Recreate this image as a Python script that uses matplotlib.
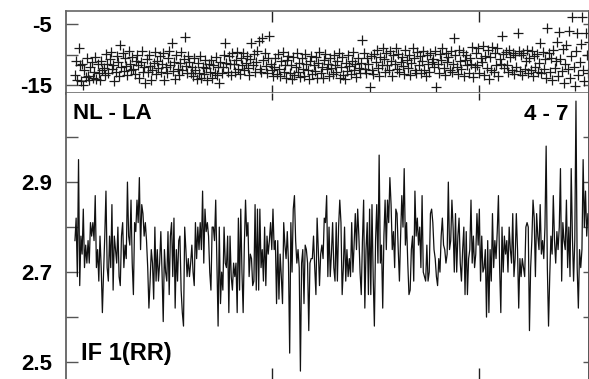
import numpy as np
import matplotlib
matplotlib.use("Agg")
import matplotlib.pyplot as plt

# ---- data ----
amp_a = [2.77, 2.82, 2.69, 2.95, 2.67, 2.78, 2.74, 2.84, 2.71, 2.76,
         2.72, 2.77, 2.72, 2.81, 2.78, 2.81, 2.77, 2.87, 2.71, 2.75,
         2.68, 2.78, 2.71, 2.61, 2.70, 2.78, 2.88, 2.71, 2.68, 2.78,
         2.71, 2.85, 2.66, 2.78, 2.75, 2.72, 2.80, 2.69, 2.67, 2.78,
         2.81, 2.71, 2.76, 2.73, 2.90, 2.78, 2.76, 2.86, 2.72, 2.65,
         2.81, 2.79, 2.86, 2.81, 2.91, 2.75, 2.85, 2.83, 2.78, 2.81,
         2.77, 2.71, 2.62, 2.68, 2.75, 2.72, 2.64, 2.80, 2.68, 2.75,
         2.68, 2.72, 2.79, 2.70, 2.59, 2.75, 2.70, 2.68, 2.79, 2.65,
         2.78, 2.81, 2.69, 2.82, 2.62, 2.75, 2.68, 2.77, 2.78, 2.66,
         2.61, 2.58, 2.80, 2.75, 2.69, 2.73, 2.69, 2.72, 2.76, 2.70]
amp_b = [2.67, 2.81, 2.73, 2.80, 2.75, 2.81, 2.75, 2.88, 2.72, 2.84,
         2.79, 2.81, 2.78, 2.70, 2.66, 2.80, 2.80, 2.77, 2.86, 2.72,
         2.58, 2.80, 2.63, 2.70, 2.66, 2.80, 2.72, 2.71, 2.78, 2.61,
         2.78, 2.69, 2.66, 2.72, 2.69, 2.72, 2.61, 2.82, 2.66, 2.84,
         2.70, 2.61, 2.76, 2.86, 2.78, 2.81, 2.69, 2.74, 2.73, 2.67,
         2.68, 2.85, 2.66, 2.84, 2.66, 2.84, 2.71, 2.75, 2.68, 2.80,
         2.67, 2.78, 2.74, 2.77, 2.81, 2.75, 2.84, 2.75, 2.77, 2.63,
         2.77, 2.64, 2.74, 2.69, 2.63, 2.81, 2.76, 2.73, 2.79, 2.72,
         2.52, 2.81, 2.70, 2.84, 2.87, 2.77, 2.72, 2.75, 2.71, 2.48,
         2.72, 2.75, 2.63, 2.76, 2.75, 2.72, 2.57, 2.72, 2.73, 2.73,
         2.78, 2.71, 2.65, 2.82, 2.75, 2.67, 2.74, 2.76, 2.73, 2.82,
         2.81]
amp_c = [2.87, 2.69, 2.80, 2.69, 2.74, 2.81, 2.71, 2.68, 2.81, 2.68,
         2.80, 2.86, 2.81, 2.65, 2.71, 2.80, 2.68, 2.75, 2.69, 2.73,
         2.69, 2.81, 2.70, 2.76, 2.83, 2.75, 2.84, 2.78, 2.70, 2.65,
         2.77, 2.86, 2.62, 2.75, 2.81, 2.65, 2.84, 2.65, 2.85, 2.69,
         2.58, 2.77, 2.85, 2.72, 2.96, 2.72, 2.76, 2.62, 2.78, 2.86,
         2.75, 2.86, 2.81, 2.91, 2.85, 2.75, 2.79, 2.71, 2.84, 2.83,
         2.75, 2.68, 2.78, 2.87, 2.80, 2.93, 2.76, 2.81, 2.72, 2.65,
         2.66, 2.75, 2.78, 2.68, 2.88, 2.78, 2.82, 2.76, 2.80, 2.71,
         2.87, 2.70, 2.69, 2.68, 2.76, 2.68, 2.70, 2.83, 2.84, 2.81,
         2.75, 2.73, 2.69, 2.67, 2.73, 2.70, 2.78, 2.82, 2.76, 2.75,
         2.72, 2.74, 2.90, 2.75, 2.77, 2.86, 2.80]
amp_d = [2.70, 2.83, 2.70, 2.78, 2.82, 2.72, 2.68, 2.75, 2.80,
         2.65, 2.79, 2.65, 2.73, 2.75, 2.86, 2.72, 2.78,
         2.71, 2.74, 2.83, 2.76, 2.84, 2.68, 2.78, 2.70,
         2.71, 2.75, 2.60, 2.77, 2.61, 2.75, 2.68, 2.83, 2.71, 2.77,
         2.73, 2.79, 2.87, 2.71, 2.61, 2.80, 2.70, 2.78, 2.74, 2.77,
         2.70, 2.80, 2.75, 2.72, 2.83, 2.69, 2.73, 2.83, 2.75,
         2.62, 2.73, 2.69, 2.73, 2.71, 2.69, 2.80, 2.81,
         2.80, 2.57, 2.71, 2.77, 2.86, 2.82, 2.69, 2.83, 2.78, 2.75,
         2.85, 2.74, 2.77, 2.73, 2.80, 2.98, 2.71, 2.58, 2.69, 2.78,
         2.74, 2.87, 2.77, 2.72, 2.79, 2.75, 2.80, 2.93, 2.68, 2.81,
         2.77, 2.75, 2.86, 2.71, 2.80, 2.69, 2.93, 2.78, 2.68, 2.77,
         3.08, 2.71, 2.62, 2.75, 2.71, 2.75, 2.95, 2.80, 2.88, 2.78,
         2.83, 2.80]
amplitude = amp_a + amp_b + amp_c + amp_d

phase = [
    -13.4, -11.0, -14.1, -8.9, -11.8, -14.3, -11.5, -15.0, -12.6, -13.7, -10.6, -13.5,
    -14.2, -12.0, -11.2, -13.8, -12.9, -10.4, -14.0, -11.6, -13.1, -14.1, -11.0, -12.5,
    -12.2, -13.4, -9.9, -11.6, -13.0, -10.8, -9.6, -12.4, -11.7, -14.3, -12.8, -10.2,
    -11.2, -13.5, -8.4, -12.1, -9.8, -12.7, -10.6, -11.9, -13.3, -9.4, -11.6, -12.5,
    -10.4, -12.3, -13.2, -11.0, -10.0, -11.8, -13.8, -11.2, -9.5, -12.9, -12.1, -14.6,
    -10.8, -12.9, -10.0, -11.9, -14.1, -12.5, -11.4, -9.6, -13.2, -11.0, -12.2, -10.2,
    -12.8, -11.6, -9.8, -14.1, -12.1, -13.1, -10.6, -9.5, -11.8, -8.1, -12.7, -11.2,
    -14.0, -10.0, -12.3, -13.4, -11.4, -9.6, -12.5, -10.8, -7.1, -11.9, -13.0, -10.2,
    -11.2, -13.1, -12.0, -13.6, -10.6, -12.6, -14.0, -11.4, -13.0, -10.2, -13.8, -12.0,
    -13.2, -10.9, -12.2, -14.2, -11.6, -12.8, -10.9, -13.9, -11.8, -13.1, -10.4, -13.4,
    -12.1, -14.6, -11.2, -13.0, -12.0, -10.0, -8.1, -11.4, -12.9, -10.2, -11.6, -13.3,
    -9.8, -11.6, -12.8, -10.9, -9.6, -12.4, -13.2, -10.6, -11.8, -9.8, -12.6, -11.4,
    -10.2, -12.2, -13.3, -10.7, -8.1, -11.8, -9.9, -12.9, -11.2, -9.4, -7.8, -12.4,
    -12.8, -7.3, -10.9, -9.8, -11.9, -13.0, -10.5, -7.0, -11.6, -12.6, -13.5, -12.1,
    -10.6, -13.2, -9.9, -12.3, -13.5, -11.1, -9.6, -12.8, -11.8, -13.9, -10.9, -10.2,
    -13.0, -11.7, -14.0, -10.4, -13.4, -12.1, -9.8, -12.9, -11.4, -13.7, -10.6, -12.3,
    -13.6, -9.9, -11.5, -12.5, -14.0, -11.1, -10.2, -13.2, -11.8, -12.7, -10.4, -13.8,
    -11.4, -9.6, -13.0, -12.1, -13.9, -10.9, -9.9, -12.4, -11.5, -13.5, -10.6, -12.2,
    -13.2, -10.1, -11.7, -12.9, -11.1, -9.8, -13.8, -12.1, -10.4, -13.4, -14.0, -11.4,
    -12.7, -10.0, -11.9, -13.2, -11.0, -9.6, -12.5, -11.5, -13.7, -10.5, -12.2, -13.0,
    -11.4, -7.6, -9.8, -12.4, -13.1, -10.6, -11.5, -15.4, -10.2, -12.6, -13.2, -9.9,
    -11.3, -9.2, -12.2, -13.5, -10.4, -11.7, -8.9, -10.8, -12.9, -9.7, -11.8, -12.6,
    -9.5, -11.1, -13.6, -10.1, -11.6, -9.0, -12.4, -9.9, -12.8, -11.3, -10.4, -11.9,
    -13.2, -9.3, -10.9, -12.2, -10.0, -13.4, -11.4, -8.9, -10.6, -12.5, -13.0, -9.6,
    -11.7, -10.3, -13.1, -11.0, -9.4, -12.6, -13.5, -10.0, -11.6, -12.8, -9.7, -11.3,
    -10.7, -12.0, -9.4, -15.4, -11.5, -13.0, -9.9, -10.9, -9.0, -12.2, -13.3, -9.7,
    -11.3, -10.4, -12.6, -9.5, -12.9, -11.6, -7.3, -10.1, -12.0, -13.2, -9.2, -11.1,
    -12.4, -9.6, -13.5, -10.9, -10.0, -11.8, -13.1, -10.5, -11.5, -8.8, -13.7, -12.0,
    -9.8, -11.8, -8.9, -13.0, -10.5, -11.2, -8.6, -13.4, -10.2, -12.2, -9.3, -14.0,
    -10.4, -12.5, -8.7, -12.8, -9.8, -11.8, -9.0, -13.6, -10.7, -11.5, -7.0, -9.9,
    -12.2, -9.6, -11.8, -12.9, -9.3, -10.4, -12.5, -9.8, -13.2, -10.1, -12.0, -6.5,
    -9.4, -12.7, -10.0, -13.4, -9.7, -12.3, -11.1, -9.2, -13.0, -10.5, -12.6, -9.5,
    -13.6, -10.2, -12.1, -9.9, -12.8, -11.4, -8.1, -13.1, -9.6, -12.4, -10.7, -13.8,
    -5.7, -9.8, -12.9, -10.5, -14.2, -9.3, -12.2, -11.0, -8.0, -13.6, -6.3, -10.8,
    -12.7, -9.1, -14.6, -11.5, -8.5, -12.4, -6.2, -13.9, -10.2, -3.8, -12.0, -15.1,
    -9.4, -6.5, -13.3, -11.2, -8.2, -3.8, -12.6, -14.4, -6.5, -10.0, -13.0, -7.9,
]

phase_ticks = [-15, -10, -5]
phase_ticklabels = ["-15", "", "-5"]
amp_ticks = [2.5, 2.6, 2.7, 2.8, 2.9, 3.0]
amp_ticklabels = ["2.5", "", "2.7", "", "2.9", ""]
time_ticks = [165, 339]
baseline_label = "NL - LA"
scan_label = "4 - 7"
if_label = "IF 1(RR)"

# ---- figure ----
W, H = 589, 379
fig = plt.figure(figsize=(W / 100, H / 100), dpi=100)
plt.rcParams['font.family'] = ['Liberation Sans', 'DejaVu Sans']

def fx(px):
    return px / W

def fy(py):
    return 1 - py / H

left, right = 66, 588.5
ax1 = fig.add_axes([fx(left), fy(93), fx(right - left), fy(11) - fy(93)])
ax2 = fig.add_axes([fx(left), fy(381), fx(right - left), fy(93) - fy(381)])

x = np.arange(len(amplitude))
xlim = (-7.5, 430.5)

ax1.plot(x, phase, linestyle='none', marker='+', markersize=6.5,
         markeredgewidth=0.9, color='#1a1a1a')
ax2.plot(x, amplitude, color='#111111', linewidth=0.9)

ax1.set_xlim(*xlim)
ax2.set_xlim(*xlim)
ax1.set_ylim(-16.31, -2.87)
ax2.set_ylim(2.458, 3.098)

spine_col = '#555555'
for ax in (ax1, ax2):
    for s in ax.spines.values():
        s.set_color(spine_col)
        s.set_linewidth(1.2)
    ax.set_xticks(time_ticks)
    ax.set_xticklabels([])
ax2.spines['bottom'].set_visible(False)
ax2.spines['top'].set_visible(False)
ax1.spines['bottom'].set_linewidth(2.0)
ax1.spines['bottom'].set_color('#777777')
ax1.spines['top'].set_color('#666666')

ax1.set_yticks(phase_ticks)
ax1.set_yticklabels(phase_ticklabels)
ax2.set_yticks(amp_ticks)
ax2.set_yticklabels(amp_ticklabels)

for ax in (ax1, ax2):
    ax.tick_params(axis='y', which='major', direction='in', left=True, right=False,
                   length=8.5, width=1.0, color='#555555', pad=10,
                   labelsize=16)
    for lab in ax.get_yticklabels():
        lab.set_fontweight('bold')
    sec = ax.secondary_yaxis('right')
    sec.set_yticks(ax.get_yticks())
    sec.set_yticklabels([])
    sec.tick_params(direction='in', length=4, width=1.0, color='#555555')
    sec.spines['right'].set_color(spine_col)
    sec.spines['right'].set_linewidth(1.2)

ax1.tick_params(axis='x', direction='in', top=True, bottom=True,
                length=8, width=1.0, color='#222222')
ax2.tick_params(axis='x', direction='in', top=True, bottom=True,
                length=9.5, width=1.0, color='#222222')
for t in ax2.xaxis.get_major_ticks():
    t.tick2line.set_markersize(5)
for t in ax1.xaxis.get_major_ticks():
    t.tick2line.set_markersize(8)
    t.tick1line.set_markersize(6)

ax2.text((73 - left) / (right - left), (381 - 119) / 288, baseline_label,
         transform=ax2.transAxes, fontsize=16, fontweight='bold',
         ha='left', va='baseline', color='black')
ax2.text((569 - left) / (right - left), (381 - 120) / 288, scan_label,
         transform=ax2.transAxes, fontsize=16, fontweight='bold',
         ha='right', va='baseline', color='black')
ax2.text((81 - left) / (right - left), (381 - 360) / 288, if_label,
         transform=ax2.transAxes, fontsize=17, fontweight='bold',
         ha='left', va='baseline', color='black')

fig.savefig('out.png', dpi=100)
